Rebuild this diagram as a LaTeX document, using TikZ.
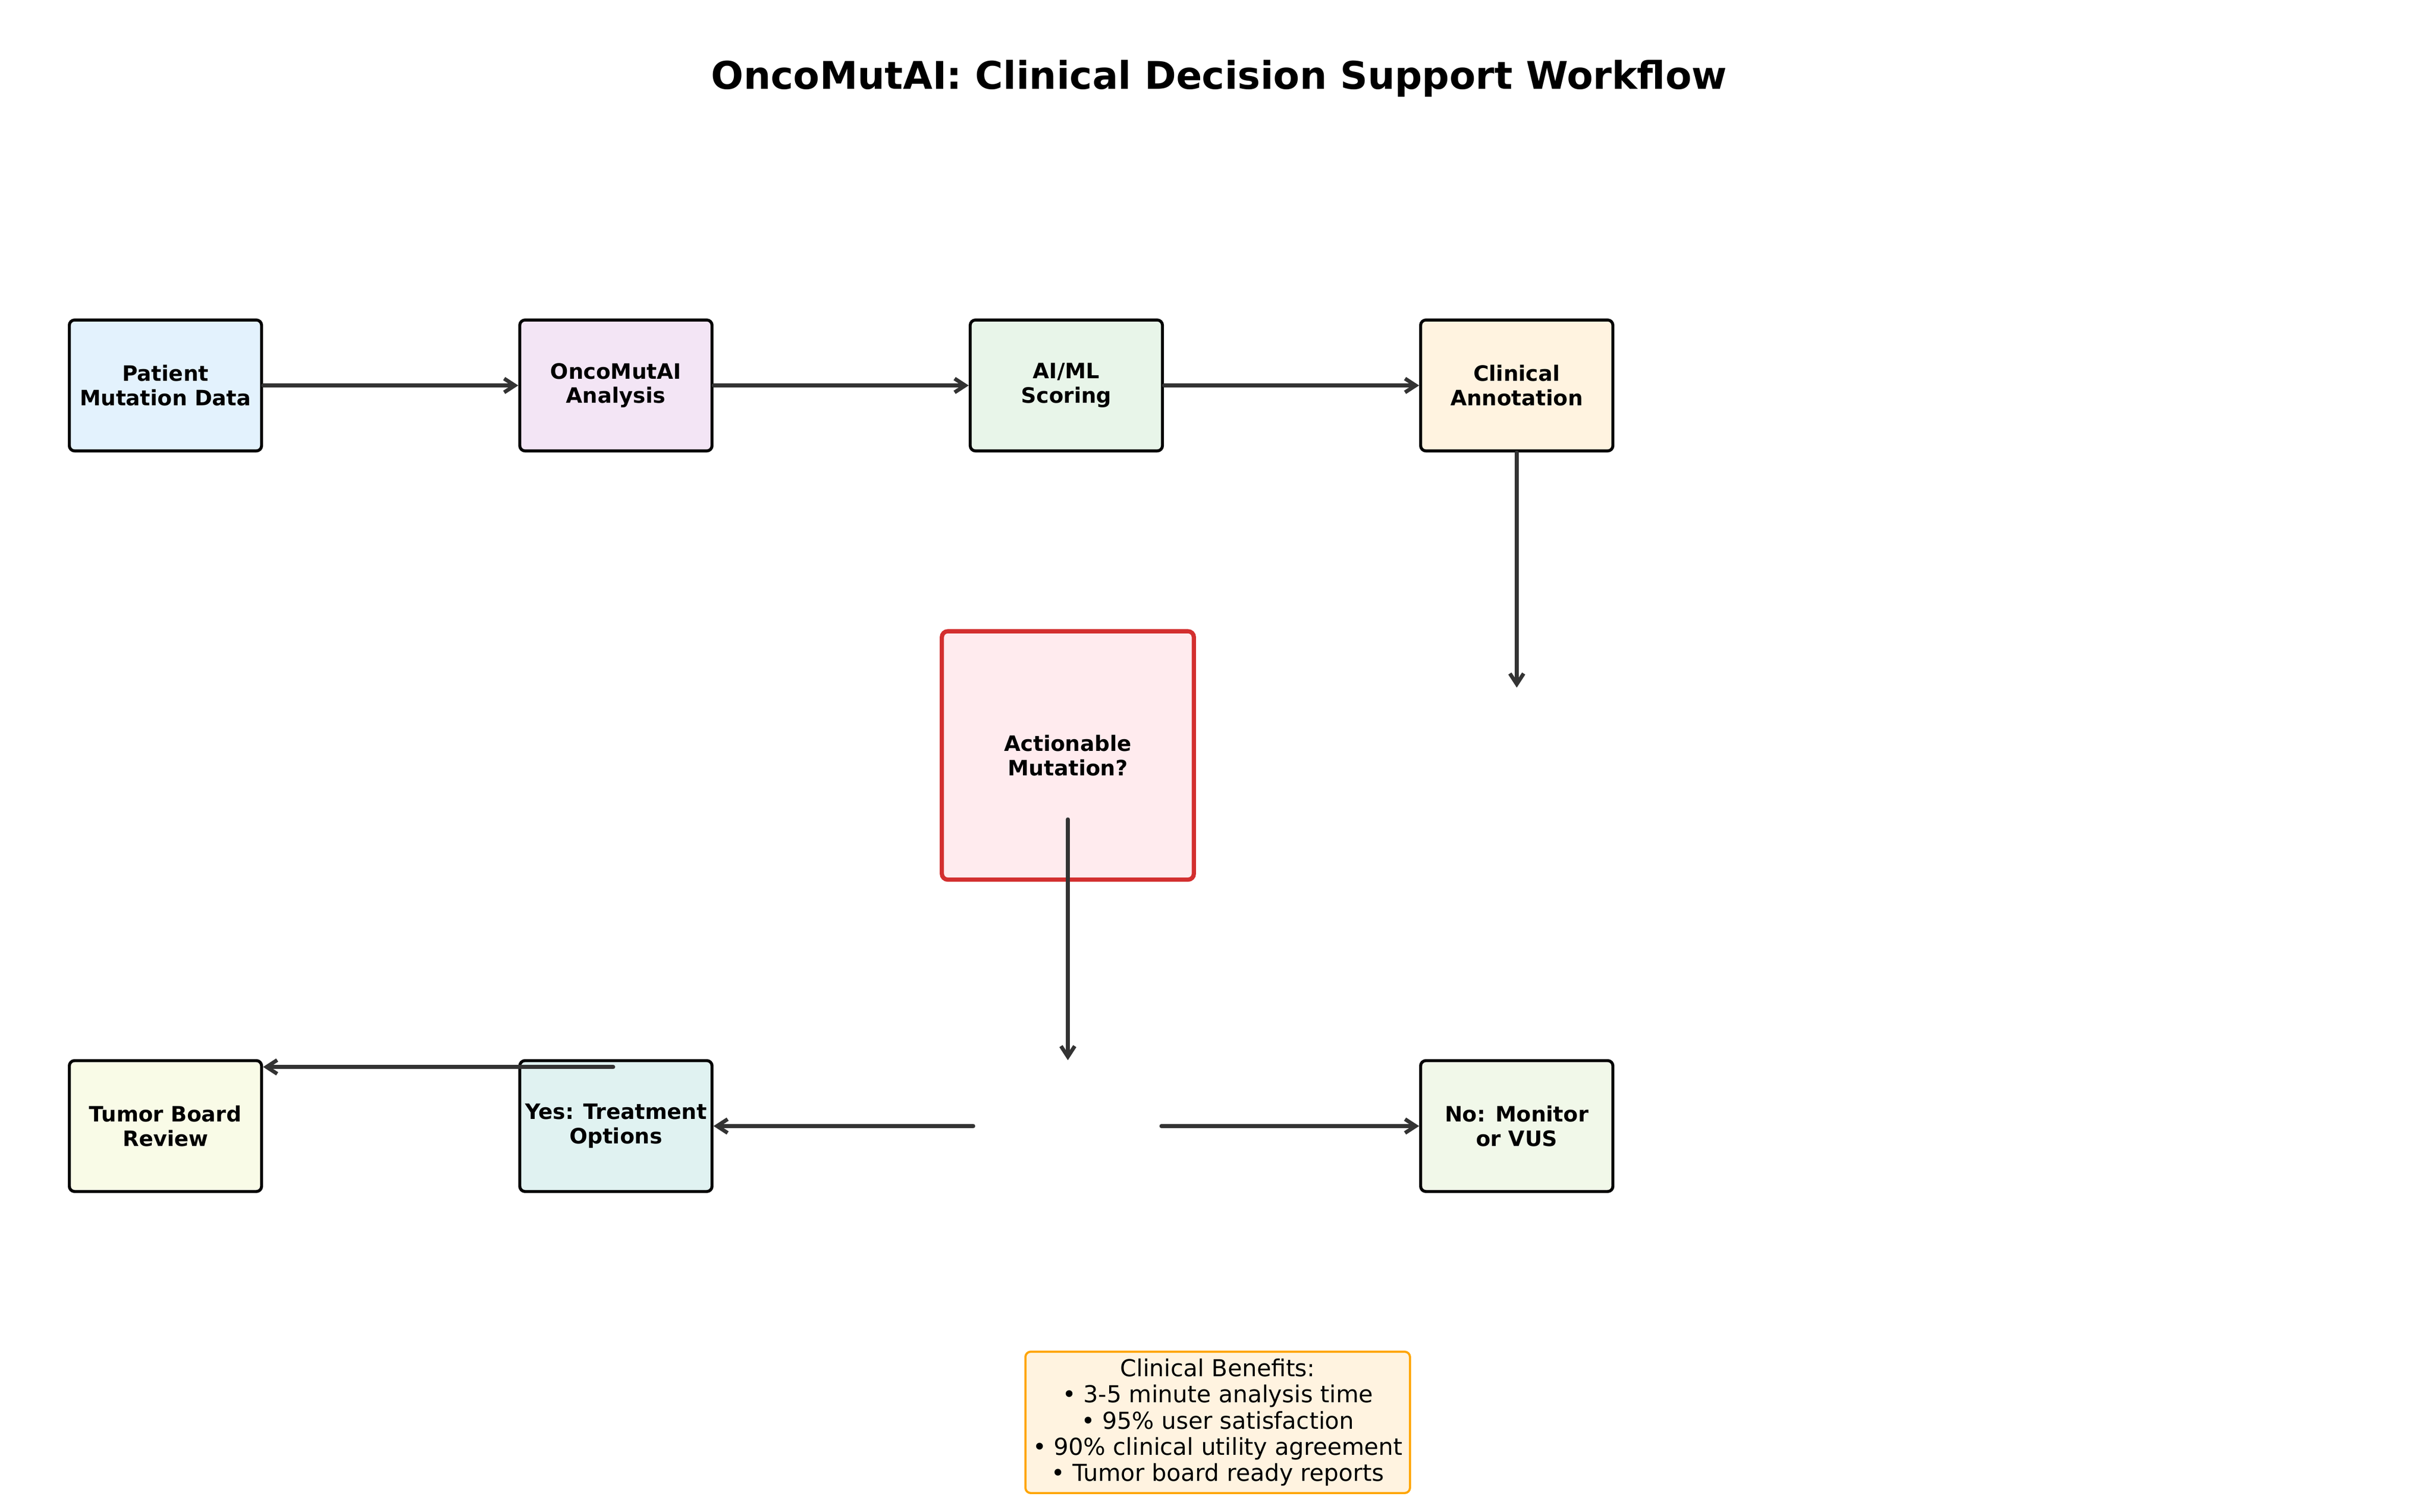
\documentclass[tikz,border=0pt]{standalone}
\usepackage{fontspec}
\setmainfont{DejaVu Sans}
\usetikzlibrary{arrows.meta}

\definecolor{patientblue}{HTML}{E3F2FD}
\definecolor{oncopurple}{HTML}{F3E5F5}
\definecolor{scoringgreen}{HTML}{E8F5E9}
\definecolor{annotorange}{HTML}{FFF3E0}
\definecolor{decisionpink}{HTML}{FFEBEE}
\definecolor{decisionred}{HTML}{D32F2F}
\definecolor{boardlime}{HTML}{F9FBE7}
\definecolor{treatteal}{HTML}{E0F2F1}
\definecolor{vusgreen}{HTML}{F1F8E9}
\definecolor{benefitfill}{HTML}{FFF3E0}
\definecolor{benefitorange}{HTML}{FFA500}
\definecolor{arrowgrey}{HTML}{333333}

\tikzset{
  titletext/.style={anchor=base, font=\bfseries\fontsize{18}{21.6}\selectfont},
  stepbox/.style={draw=black, line width=1.4pt, rounded corners=2.5pt,
    minimum width=1.255in, minimum height=0.855in, inner sep=0pt,
    align=center, font=\bfseries\fontsize{10}{11.5}\selectfont},
  decisionbox/.style={stepbox, draw=decisionred, fill=decisionpink, line width=2pt,
    rounded corners=2.8pt, minimum width=1.645in, minimum height=1.622in},
  benefitbox/.style={draw=benefitorange, fill=benefitfill, line width=1pt,
    rounded corners=2.5pt, minimum width=2.51in, minimum height=0.923in,
    inner sep=0pt, align=center, font=\fontsize{11}{12.4}\selectfont},
  flow/.style={draw=arrowgrey, line width=1.8pt, line cap=round,
    -{Straight Barb[length=5pt, width=6.5pt]}},
}

\begin{document}
\begin{tikzpicture}[x=1in, y=1in]
  % page size of the figure
  \useasboundingbox (0,0) rectangle (15.9,-9.873);

  \node[titletext] (title) at (7.957,-0.583) {OncoMutAI: Clinical Decision Support Workflow};

  \node[stepbox, fill=patientblue]  (patient) at (1.08,-2.517) {Patient\\Mutation Data};
  \node[stepbox, fill=oncopurple]   (onco)    at (4.02,-2.517) {OncoMutAI\\Analysis};
  \node[stepbox, fill=scoringgreen] (scoring) at (6.96,-2.517) {AI/ML\\Scoring};
  \node[stepbox, fill=annotorange]  (annot)   at (9.90,-2.517) {Clinical\\Annotation};

  \node[decisionbox] (decision) at (6.97,-4.933) {Actionable\\Mutation?};

  \node[stepbox, fill=boardlime] (board) at (1.08,-7.353) {Tumor Board\\Review};
  \node[stepbox, fill=treatteal] (treat) at (4.02,-7.353) {Yes: Treatment\\Options};
  \node[stepbox, fill=vusgreen]  (vus)   at (9.90,-7.353) {No: Monitor\\or VUS};

  \node[benefitbox] (benefits) at (7.948,-9.288) {Clinical Benefits:\\
    • 3-5 minute analysis time\\
    • 95\% user satisfaction\\
    • 90\% clinical utility agreement\\
    • Tumor board ready reports};

  % loose ends of the connectors
  \coordinate (annotend) at (9.90,-4.49);
  \coordinate (decout)   at (6.97,-5.35);
  \coordinate (decend)   at (6.97,-6.923);
  \coordinate (yesstart) at (6.353,-7.353);
  \coordinate (nostart)  at (7.58,-7.353);
  \coordinate (treatup)  at (4.003,-6.967);

  \draw[flow] (patient) -- (onco);
  \draw[flow] (onco) -- (scoring);
  \draw[flow] (scoring) -- (annot);
  \draw[flow] (annot) -- (annotend);
  \draw[flow] (decout) -- (decend);
  \draw[flow] (yesstart) -- (treat.east);
  \draw[flow] (nostart) -- (vus.west);
  \draw[flow] (treatup) -- (treatup -| board.east);
\end{tikzpicture}
\end{document}
